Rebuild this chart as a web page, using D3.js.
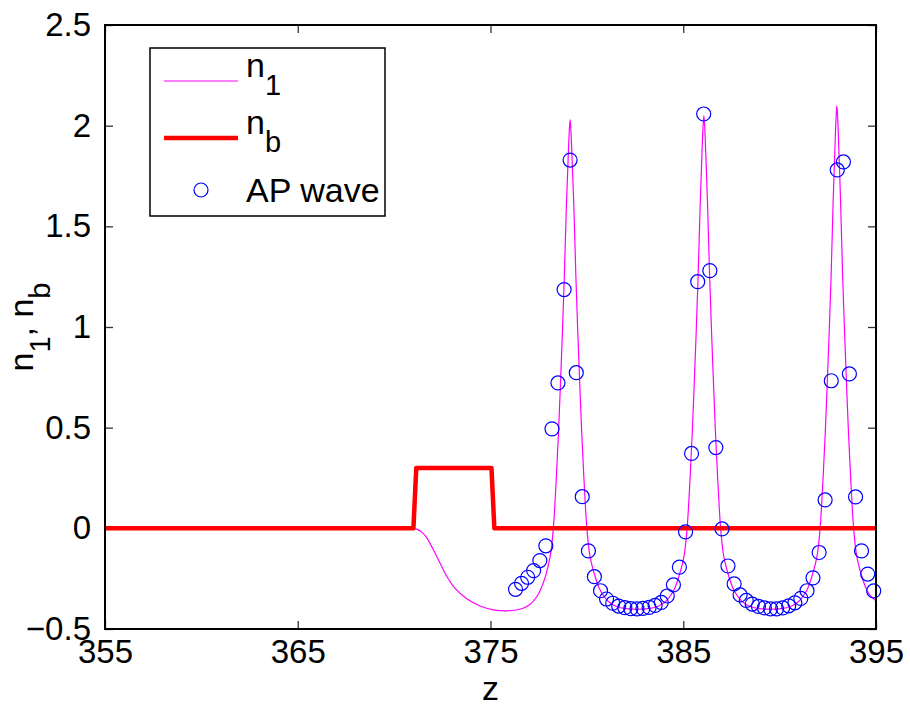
<!DOCTYPE html>
<html>
<head>
<meta charset="utf-8">
<script src="https://cdn.jsdelivr.net/npm/d3@7"></script>
<style>
  html, body { margin: 0; padding: 0; background: #fff; }
  svg { display: block; font-family: "Liberation Sans", Arial, Helvetica, sans-serif; }
</style>
</head>
<body>
<svg id="chart" width="910" height="713"></svg>
<script>
// ---------------- data ----------------
const xTicks = [355, 365, 375, 385, 395];
const yTicks = [-0.5, 0, 0.5, 1, 1.5, 2, 2.5];

// n_b (step)
const nbZ    = [355, 371.0, 371.15, 375.05, 375.2, 395];
const nbVals = [0,   0,     0.3,    0.3,    0,     0];

// n_1 (numerical solution, magenta line)
const n1Z = [355, 371.0, 371.2, 371.45, 371.68, 372.03, 372.38, 372.73, 373.16, 373.77, 374.46, 375.15, 375.84, 376.53, 377.05, 377.43, 377.63, 377.83, 378.03, 378.13, 378.26, 378.33, 378.43, 378.53, 378.63, 378.73, 378.83, 378.93, 379.03, 379.08, 379.13, 379.18, 379.23, 379.33, 379.43, 379.53, 379.63, 379.73, 379.83, 379.93, 380.00, 380.13, 380.23, 380.43, 380.63, 380.83, 381.13, 381.53, 382.03, 382.60, 383.17, 383.67, 384.07, 384.37, 384.57, 384.77, 384.97, 385.07, 385.20, 385.27, 385.37, 385.47, 385.57, 385.67, 385.77, 385.87, 385.97, 386.02, 386.07, 386.12, 386.17, 386.27, 386.37, 386.47, 386.57, 386.67, 386.77, 386.87, 386.94, 387.07, 387.17, 387.37, 387.57, 387.77, 388.07, 388.47, 388.97, 389.52, 390.07, 390.57, 390.97, 391.27, 391.47, 391.67, 391.87, 391.97, 392.10, 392.17, 392.27, 392.37, 392.47, 392.57, 392.67, 392.77, 392.87, 392.92, 392.97, 393.02, 393.07, 393.17, 393.27, 393.37, 393.47, 393.57, 393.67, 393.77, 393.84, 393.97, 394.07, 394.27, 394.47, 394.67, 395.0];
const n1Vals = [0, 0, -0.005, -0.020, -0.045, -0.105, -0.172, -0.238, -0.298, -0.350, -0.386, -0.405, -0.410, -0.402, -0.378, -0.335, -0.297, -0.245, -0.17, -0.12, 0.0, 0.10, 0.28, 0.48, 0.72, 0.97, 1.25, 1.58, 1.84, 1.96, 2.03, 1.96, 1.84, 1.58, 1.25, 0.97, 0.72, 0.48, 0.28, 0.10, 0.0, -0.12, -0.17, -0.24, -0.295, -0.33, -0.365, -0.388, -0.399, -0.402, -0.399, -0.388, -0.365, -0.33, -0.295, -0.24, -0.17, -0.12, 0.0, 0.10, 0.28, 0.48, 0.72, 0.97, 1.25, 1.58, 1.86, 1.98, 2.05, 1.98, 1.86, 1.58, 1.25, 0.97, 0.72, 0.48, 0.28, 0.10, 0.0, -0.12, -0.17, -0.24, -0.295, -0.33, -0.365, -0.388, -0.399, -0.402, -0.399, -0.388, -0.365, -0.33, -0.295, -0.24, -0.17, -0.12, 0.0, 0.10, 0.28, 0.48, 0.72, 0.97, 1.25, 1.60, 1.89, 2.02, 2.10, 2.02, 1.89, 1.60, 1.25, 0.97, 0.72, 0.48, 0.28, 0.10, 0.0, -0.12, -0.17, -0.24, -0.295, -0.33, -0.36];

// AP wave (circles)
const apZ = [376.30, 376.61, 376.93, 377.24, 377.56, 377.87, 378.19, 378.50, 378.82, 379.13, 379.45, 379.76, 380.08, 380.39, 380.71, 381.02, 381.34, 381.65, 381.97, 382.28, 382.60, 382.91, 383.23, 383.54, 383.86, 384.17, 384.49, 384.80, 385.12, 385.43, 385.75, 386.06, 386.38, 386.69, 387.01, 387.32, 387.64, 387.95, 388.27, 388.58, 388.90, 389.21, 389.53, 389.84, 390.16, 390.47, 390.79, 391.10, 391.42, 391.73, 392.05, 392.36, 392.68, 392.99, 393.31, 393.62, 393.94, 394.25, 394.57, 394.88];
const apVals = [-0.303, -0.273, -0.243, -0.210, -0.160, -0.087, 0.494, 0.722, 1.186, 1.829, 0.773, 0.157, -0.112, -0.240, -0.310, -0.351, -0.372, -0.386, -0.394, -0.399, -0.400, -0.398, -0.393, -0.383, -0.368, -0.336, -0.281, -0.193, -0.018, 0.372, 1.225, 2.058, 1.280, 0.401, -0.003, -0.187, -0.276, -0.331, -0.358, -0.376, -0.388, -0.395, -0.400, -0.400, -0.395, -0.385, -0.370, -0.348, -0.310, -0.246, -0.120, 0.141, 0.733, 1.780, 1.820, 0.767, 0.156, -0.112, -0.227, -0.311];

// ---------------- layout ----------------
const L = 105, R = 876, T = 25, B = 629;
const FS = 33;

const svg = d3.select("#chart");
const x = d3.scaleLinear().domain([355, 395]).range([L, R]);
const y = d3.scaleLinear().domain([-0.5, 2.5]).range([B, T]);

const fmtY = d => d3.format("")(d).replace("-", "\u2212");

const tickLen = 8;
function styleAxis(g, labels) {
  g.select(".domain").remove();
  g.selectAll(".tick line").attr("stroke", "#333").attr("stroke-width", 1.3);
  g.selectAll(".tick text").attr("fill", "#000").attr("font-size", FS)
    .attr("font-family", "'Liberation Sans', Arial, sans-serif");
  if (!labels) g.selectAll(".tick text").remove();
}

svg.append("g").attr("transform", `translate(0,${B})`)
  .call(d3.axisBottom(x).tickValues(xTicks).tickSizeInner(-tickLen).tickSizeOuter(0).tickPadding(11).tickFormat(d3.format("d")))
  .call(g => styleAxis(g, true));
svg.append("g").attr("transform", `translate(0,${T})`)
  .call(d3.axisTop(x).tickValues(xTicks).tickSizeInner(-tickLen).tickSizeOuter(0))
  .call(g => styleAxis(g, false));
svg.append("g").attr("transform", `translate(${L},0)`)
  .call(d3.axisLeft(y).tickValues(yTicks).tickSizeInner(-tickLen).tickSizeOuter(0).tickPadding(14).tickFormat(fmtY))
  .call(g => styleAxis(g, true));
svg.append("g").attr("transform", `translate(${R},0)`)
  .call(d3.axisRight(y).tickValues(yTicks).tickSizeInner(-tickLen).tickSizeOuter(0))
  .call(g => styleAxis(g, false));

// data lines
svg.append("path")
  .datum(d3.zip(n1Z, n1Vals))
  .attr("fill", "none").attr("stroke", "#ff00ff").attr("stroke-width", 1.2)
  .attr("d", d3.line().x(d => x(d[0])).y(d => y(d[1])).curve(d3.curveCatmullRom.alpha(0.5)));
svg.append("path")
  .datum(d3.zip(nbZ, nbVals))
  .attr("fill", "none").attr("stroke", "#ff0000").attr("stroke-width", 4.5)
  .attr("stroke-linejoin", "round")
  .attr("d", d3.line().x(d => x(d[0])).y(d => y(d[1])));
svg.append("g").selectAll("circle")
  .data(d3.zip(apZ, apVals)).join("circle")
  .attr("cx", d => x(d[0])).attr("cy", d => y(d[1])).attr("r", 7)
  .attr("fill", "none").attr("stroke", "#0000ff").attr("stroke-width", 1.2);

// box frame
svg.append("rect").attr("x", L).attr("y", T).attr("width", R - L).attr("height", B - T)
  .attr("fill", "none").attr("stroke", "#000").attr("stroke-width", 2);

// axis labels
svg.append("text").attr("x", (L + R) / 2).attr("y", 700).attr("text-anchor", "middle")
  .attr("font-size", FS + 1).text("z");

const yl = svg.append("text")
  .attr("transform", `translate(33,${(T + B) / 2}) rotate(-90)`)
  .attr("text-anchor", "middle").attr("font-size", 34);
yl.append("tspan").text("n");
yl.append("tspan").attr("dy", 17).attr("font-size", 29).text("1");
yl.append("tspan").attr("dy", -17).text(", n");
yl.append("tspan").attr("dy", 17).attr("font-size", 29).text("b");

// legend
const leg = svg.append("g");
leg.append("rect").attr("x", 150).attr("y", 48).attr("width", 235).attr("height", 168)
  .attr("fill", "#fff").attr("stroke", "#000").attr("stroke-width", 1.5);
const legendItems = [
  {label: "n", sub: "1", type: "thin", yLine: 81, yText: 77},
  {label: "n", sub: "b", type: "thick", yLine: 138, yText: 134},
  {label: "AP wave", sub: null, type: "circle", yLine: 190, yText: 202}
];
legendItems.forEach(it => {
  if (it.type === "thin") {
    leg.append("line").attr("x1", 164).attr("x2", 238).attr("y1", it.yLine).attr("y2", it.yLine)
      .attr("stroke", "#ff00ff").attr("stroke-width", 1.2);
  } else if (it.type === "thick") {
    leg.append("line").attr("x1", 164).attr("x2", 238).attr("y1", it.yLine).attr("y2", it.yLine)
      .attr("stroke", "#ff0000").attr("stroke-width", 4.5);
  } else {
    leg.append("circle").attr("cx", 201).attr("cy", it.yLine).attr("r", 7)
      .attr("fill", "none").attr("stroke", "#0000ff").attr("stroke-width", 1.2);
  }
  const t = leg.append("text").attr("x", 246).attr("y", it.yText).attr("font-size", 34);
  t.append("tspan").text(it.label);
  if (it.sub) t.append("tspan").attr("dy", 18).attr("font-size", 29).text(it.sub);
});
</script>
</body>
</html>
